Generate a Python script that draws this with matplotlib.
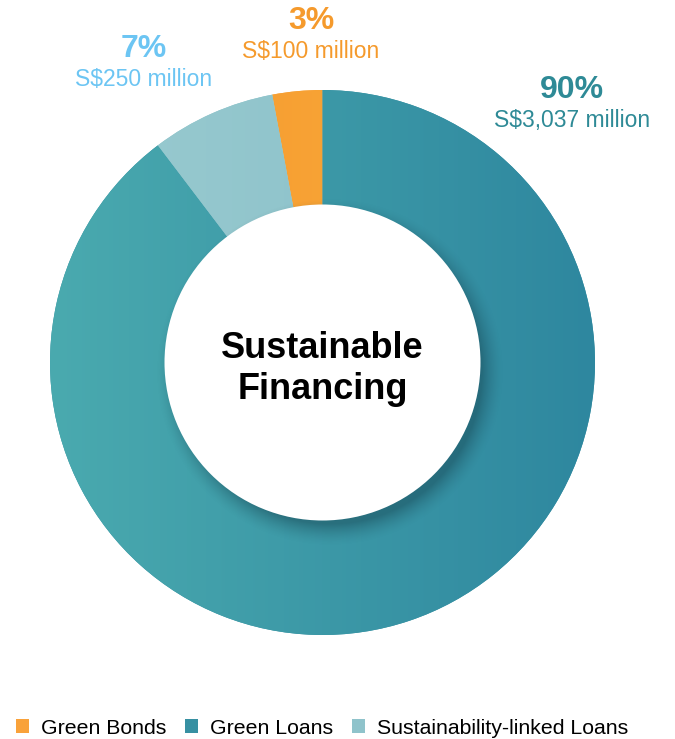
import matplotlib.pyplot as plt
import numpy as np
from matplotlib.colors import LinearSegmentedColormap

# data
labels = ["Green Bonds", "Sustainability-linked Loans", "Green Loans"]
amounts = [100, 250, 3037]          # S$ million
pct_labels = ["3%", "7%", "90%"]
amt_labels = ["S$100 million", "S$250 million", "S$3,037 million"]

# colours: (left, right) of the horizontal gradient, plus flat legend colour
grad = {
    "Green Bonds": ("#F4952E", "#FBB03B"),
    "Sustainability-linked Loans": ("#9ACBD0", "#85BDC7"),
    "Green Loans": ("#4AAAAF", "#2E879F"),
}
flat = {
    "Green Bonds": "#F9A23A",
    "Sustainability-linked Loans": "#8FC3CB",
    "Green Loans": "#3790A2",
}
text_col = {
    "Green Bonds": "#F59A2C",
    "Sustainability-linked Loans": "#6CC5F3",
    "Green Loans": "#2E8A96",
}

plt.rcParams['font.family'] = ['Liberation Sans', 'DejaVu Sans']

W, H = 675, 739
fig = plt.figure(figsize=(W / 100, H / 100), dpi=100)
ax = fig.add_axes([0, 0, 1, 1])

cx, cy = 322.5, H - 362.5
R = 272.5
r_in = 158

wedges, _ = ax.pie(amounts, startangle=90, counterclock=True, radius=R,
                   center=(cx, cy), colors=[flat[l] for l in labels],
                   wedgeprops=dict(width=R - r_in + 2, linewidth=0))
ax.set_xlim(0, W)
ax.set_ylim(0, H)
ax.set_aspect('equal')
ax.axis('off')

# horizontal gradient fill for each wedge
ramp = np.linspace(0, 1, 256).reshape(1, -1)
for w, lab in zip(wedges, labels):
    cmap = LinearSegmentedColormap.from_list(lab, grad[lab])
    im = ax.imshow(ramp, cmap=cmap, aspect='auto', origin='lower',
                   extent=(cx - R, cx + R, cy - R, cy + R), zorder=2)
    im.set_clip_path(w)

# soft shadow of the centre disc (offset down-right)
yy, xx = np.mgrid[0:H, 0:W]
d = np.hypot(xx - (cx + 7), (H - yy) - (cy - 9))
alpha = np.clip(1 - (d - (r_in - 6)) / 22, 0, 1) ** 1.6 * 0.45
shadow = np.zeros((H, W, 4))
shadow[..., 0] = 0.08
shadow[..., 1] = 0.25
shadow[..., 2] = 0.30
shadow[..., 3] = alpha
sh = ax.imshow(shadow, extent=(0, W, 0, H), origin='upper', zorder=3)
ring = plt.Circle((cx, cy), R, transform=ax.transData)
sh.set_clip_path(ring)

ax.add_patch(plt.Circle((cx, cy), r_in, color='white', zorder=4, lw=0))
ax.text(cx, H - 369, "Sustainable\nFinancing", ha='center', va='center',
        fontsize=26, fontweight='bold', linespacing=1.22, zorder=5)

# value labels
pos = {
    "Green Bonds": (311, 21, 52),
    "Sustainability-linked Loans": (144, 49, 80),
    "Green Loans": (572, 90, 120),
}
for lab, p, a in zip(labels, pct_labels, amt_labels):
    x, y1, y2 = pos[lab]
    ax.text(x, H - y1, p, ha='center', va='center', fontsize=23,
            fontweight='bold', color=text_col[lab])
    ax.text(x, H - y2, a, ha='center', va='center', fontsize=16.5,
            color=text_col[lab])

order = [0, 2, 1]
leg = ax.legend([wedges[i] for i in order], [labels[i] for i in order],
                loc='center left', bbox_to_anchor=(0.024, 1 - 728 / H),
                ncol=3, frameon=False, fontsize=15.3, handlelength=0.62,
                handleheight=0.62, handletextpad=0.55, columnspacing=0.88,
                borderaxespad=0, borderpad=0)

fig.savefig("out.png", dpi=100)
